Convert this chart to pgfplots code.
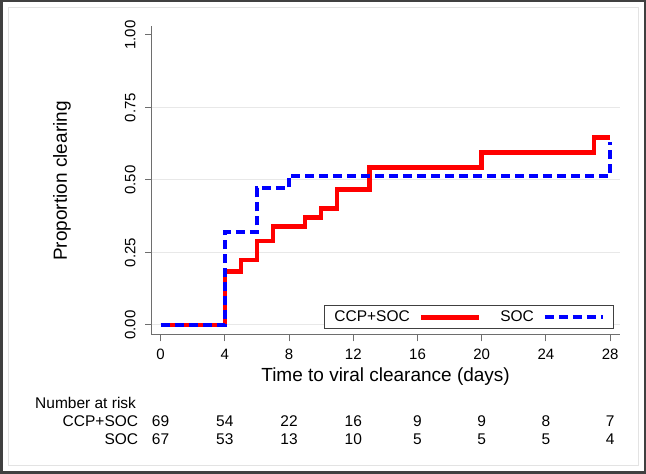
\documentclass[border=0pt]{standalone}
\usepackage{fontspec}
\setmainfont{Liberation Sans}
\usepackage{pgfplots}
\pgfplotsset{compat=1.18}
\definecolor{axgray}{RGB}{110,110,110}
\definecolor{gridgray}{RGB}{232,232,232}
\begin{document}
\fontsize{15.5}{18}\selectfont
\begin{tikzpicture}[x=1pt,y=1pt]
\path[use as bounding box] (0,0) rectangle (646,474);
\fill[white] (0,0) rectangle (646,474);
\draw[gray!22, line width=1pt] (8,8) rectangle (638,466);
\draw[black!75, line width=2.5pt] (1.25,1.25) rectangle (644.75,472.75);
\begin{axis}[
  at={(151.5pt,139pt)}, anchor=south west,
  scale only axis, width=468.5pt, height=309pt,
  xmin=-0.566, xmax=28.61, ymin=-0.0345, ymax=1.031,
  axis x line*=bottom, axis y line*=left,
  axis line style={axgray, line width=1pt, -},
  tick align=outside, major tick length=6.5pt,
  tick style={axgray, line width=1pt},
  xtick={0,4,...,28},
  ytick={0,0.25,0.5,0.75,1},
  extra y ticks={0,0.25,0.5,0.75},
  extra y tick style={grid=major, major tick length=0pt, yticklabels={}, major grid style={gridgray, line width=1pt}},
  /pgf/number format/assume math mode=true,
  ticklabel style={font=\fontsize{15}{18}\selectfont},
  yticklabel style={rotate=90, anchor=south, /pgf/number format/.cd, fixed, fixed zerofill, precision=2},
  yticklabel shift=4pt,
  xticklabel shift=2pt,
  clip=false,
  legend columns=2,
  legend plot pos=right,
  legend image code/.code={\draw[#1] (0pt,0pt) -- (58pt,0pt);},
  legend style={at={(rel axis cs:0.9857,0.01845)}, anchor=south east,
    draw=black!75, line width=0.8pt, fill=white,
    font=\fontsize{15.5}{18}\selectfont,
    inner xsep=8pt, inner ysep=3pt,
    /tikz/every odd column/.append style={column sep=7pt},
    /tikz/every even column/.append style={column sep=17pt}},
]
\addplot[const plot mark left, red, line width=4.5pt] coordinates {
 (0,0) (4,0.184) (5,0.224) (6,0.290) (7,0.339) (9,0.370) (10,0.402)
 (11,0.468) (13,0.543) (20,0.594) (27,0.646) (28,0.646)};
\addlegendentry{CCP+SOC}
\addplot[const plot mark left, blue, line width=4pt, dash pattern=on 9pt off 5pt] coordinates {
 (0,0) (4,0.320) (6,0.471) (8,0.515) (28,0.632)};
\addlegendentry{SOC}
% number at risk
\node[anchor=base] at (axis cs:0,-0.3507) {69};
\node[anchor=base] at (axis cs:4,-0.3507) {54};
\node[anchor=base] at (axis cs:8,-0.3507) {22};
\node[anchor=base] at (axis cs:12,-0.3507) {16};
\node[anchor=base] at (axis cs:16,-0.3507) {9};
\node[anchor=base] at (axis cs:20,-0.3507) {9};
\node[anchor=base] at (axis cs:24,-0.3507) {8};
\node[anchor=base] at (axis cs:28,-0.3507) {7};
\node[anchor=base] at (axis cs:0,-0.4114) {67};
\node[anchor=base] at (axis cs:4,-0.4114) {53};
\node[anchor=base] at (axis cs:8,-0.4114) {13};
\node[anchor=base] at (axis cs:12,-0.4114) {10};
\node[anchor=base] at (axis cs:16,-0.4114) {5};
\node[anchor=base] at (axis cs:20,-0.4114) {5};
\node[anchor=base] at (axis cs:24,-0.4114) {5};
\node[anchor=base] at (axis cs:28,-0.4114) {4};
\end{axis}
\node[anchor=base, font=\fontsize{19}{22}\selectfont] at (385.6,92.3) {Time to viral clearance (days)};
\node[rotate=90, anchor=base, font=\fontsize{19}{22}\selectfont] at (67,293) {Proportion clearing};
\node[anchor=base west, inner sep=0pt] at (35,65.7) {Number at risk};
\node[anchor=base east, inner sep=0pt] at (138.3,47.3) {CCP+SOC};
\node[anchor=base east, inner sep=0pt] at (138.3,29.7) {SOC};
\end{tikzpicture}
\end{document}
